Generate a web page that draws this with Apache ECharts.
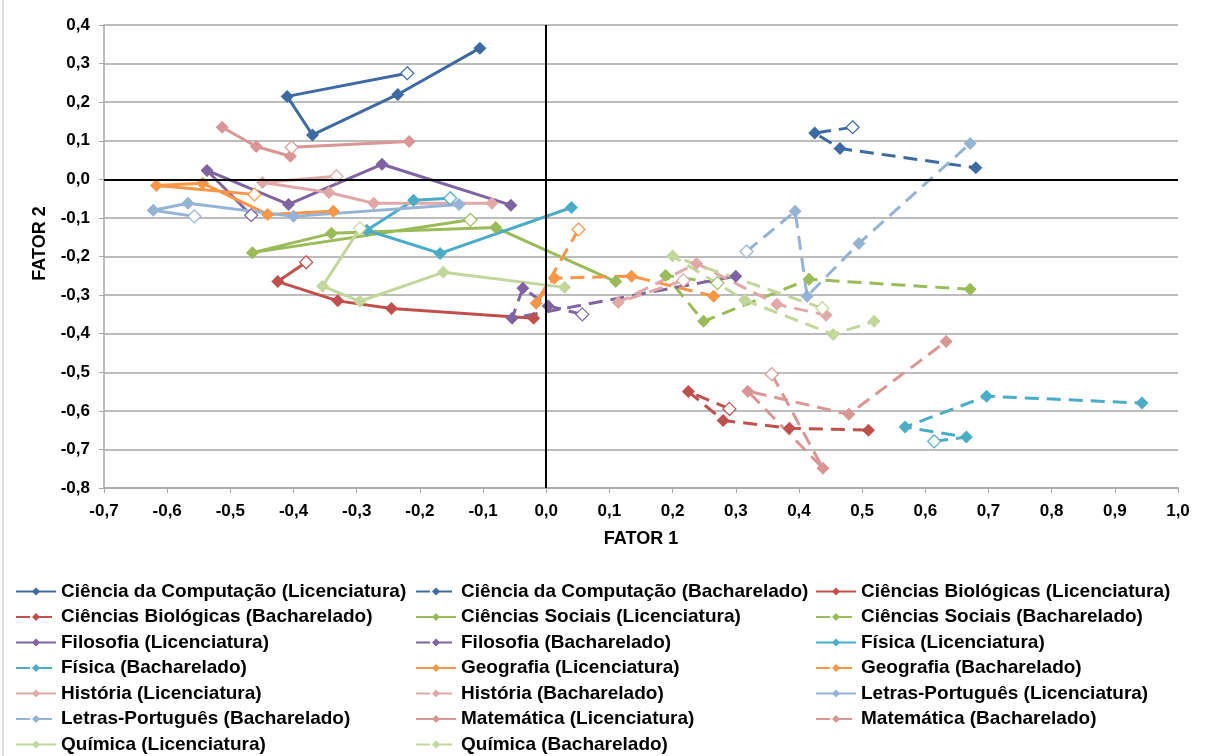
<!DOCTYPE html>
<html lang="pt">
<head>
<meta charset="UTF-8">
<title>FATOR 1 x FATOR 2</title>
<script src="https://cdn.jsdelivr.net/npm/echarts@6/dist/echarts.min.js"></script>
<style>
    html, body { margin: 0; background: #fff; }
    #main { width: 1208px; height: 756px; }
</style>
</head>
<body>
<div id="main"></div>
<script>
// nomes na ordem da legenda (Licenciatura / Bacharelado alternados)
var courseNames = [
    'Ciência da Computação (Licenciatura)', 'Ciência da Computação (Bacharelado)',
    'Ciências Biológicas (Licenciatura)', 'Ciências Biológicas (Bacharelado)',
    'Ciências Sociais (Licenciatura)', 'Ciências Sociais (Bacharelado)',
    'Filosofia (Licenciatura)', 'Filosofia (Bacharelado)',
    'Física (Licenciatura)', 'Física (Bacharelado)',
    'Geografia (Licenciatura)', 'Geografia (Bacharelado)',
    'História (Licenciatura)', 'História (Bacharelado)',
    'Letras-Português (Licenciatura)', 'Letras-Português (Bacharelado)',
    'Matemática (Licenciatura)', 'Matemática (Bacharelado)',
    'Química (Licenciatura)', 'Química (Bacharelado)'
];

// pontos [fator 1, fator 2], na ordem em que as linhas os ligam
var compLic   = [[-0.22, 0.275], [-0.41, 0.215], [-0.37, 0.115], [-0.235, 0.22], [-0.105, 0.34]];
var compBach  = [[0.485, 0.135], [0.425, 0.12], [0.465, 0.08], [0.68, 0.03]];
var bioLic    = [[-0.38, -0.215], [-0.425, -0.265], [-0.33, -0.315], [-0.245, -0.335], [-0.02, -0.36]];
var bioBach   = [[0.29, -0.595], [0.225, -0.55], [0.28, -0.625], [0.385, -0.645], [0.51, -0.65]];
var socLic    = [[-0.12, -0.105], [-0.465, -0.19], [-0.34, -0.14], [-0.08, -0.125], [0.11, -0.265]];
var socBach   = [[0.271, -0.269], [0.189, -0.249], [0.249, -0.368], [0.416, -0.259], [0.671, -0.285]];
var filLic    = [[-0.467, -0.093], [-0.537, 0.023], [-0.408, -0.065], [-0.26, 0.039], [-0.056, -0.067]];
var filBach   = [[0.057, -0.35], [0.003, -0.328], [-0.037, -0.282], [-0.054, -0.36], [0.3, -0.251]];
var fisLic    = [[-0.152, -0.049], [-0.21, -0.054], [-0.284, -0.132], [-0.168, -0.192], [0.04, -0.073]];
var fisBach   = [[0.614, -0.679], [0.665, -0.668], [0.568, -0.642], [0.697, -0.562], [0.943, -0.58]];
var geoLic    = [[-0.462, -0.039], [-0.617, -0.016], [-0.544, -0.01], [-0.441, -0.091], [-0.337, -0.083]];
var geoBach   = [[0.051, -0.13], [-0.016, -0.321], [0.013, -0.256], [0.135, -0.251], [0.265, -0.303]];
var hisLic    = [[-0.332, 0.008], [-0.449, -0.008], [-0.344, -0.034], [-0.273, -0.062], [-0.086, -0.062]];
var hisBach   = [[0.217, -0.262], [0.114, -0.319], [0.238, -0.218], [0.365, -0.324], [0.443, -0.352]];
var letLic    = [[-0.557, -0.096], [-0.622, -0.08], [-0.567, -0.062], [-0.4, -0.096], [-0.138, -0.065]];
var letBach   = [[0.317, -0.187], [0.394, -0.083], [0.413, -0.303], [0.495, -0.166], [0.671, 0.093]];
var matLic    = [[-0.513, 0.135], [-0.459, 0.085], [-0.405, 0.06], [-0.403, 0.083], [-0.217, 0.098]];
var matBach   = [[0.357, -0.505], [0.438, -0.749], [0.319, -0.549], [0.479, -0.609], [0.633, -0.42]];
var quiLic    = [[-0.295, -0.127], [-0.354, -0.277], [-0.295, -0.316], [-0.163, -0.241], [0.029, -0.28]];
var quiBach   = [[0.437, -0.334], [0.2, -0.199], [0.314, -0.313], [0.454, -0.402], [0.519, -0.368]];

var allPoints = [compLic, compBach, bioLic, bioBach, socLic, socBach, filLic, filBach,
    fisLic, fisBach, geoLic, geoBach, hisLic, hisBach, letLic, letBach,
    matLic, matBach, quiLic, quiBach];

// posição do marcador vazado em cada série
var hollowIndex = [0, 0, 0, 0, 0, 0, 0, 0, 0, 0, 0, 0, 0, 0, 0, 0, 3, 0, 0, 0];

// uma cor por curso
var courseColors = ['#3E6AA2', '#C0504D', '#9BBB59', '#8064A2', '#4BACC6',
    '#F79646', '#E0A9A8', '#95B3D7', '#D99694', '#C3D69B'];

var fontFamily = '"Liberation Sans", Arial, sans-serif';

function fmt(v) {
    if (Math.abs(v) < 1e-9) return '0,0';
    return v.toFixed(1).replace('.', ',');
}

var chart = echarts.init(document.getElementById('main'));

var series = [{
    // só as linhas dos eixos em zero
    type: 'line',
    data: [],
    z: 1,
    silent: true,
    markLine: {
        silent: true,
        symbol: 'none',
        label: { show: false },
        lineStyle: { color: '#000', width: 2, type: 'solid' },
        data: [{ xAxis: 0 }, { yAxis: 0 }],
        animation: false
    }
}];

courseNames.forEach(function (name, i) {
    var c = courseColors[Math.floor(i / 2)];
    var dashed = name.indexOf('Bacharelado') >= 0;
    series.push({
        name: name,
        type: 'line',
        z: 3,
        symbol: 'diamond',
        symbolSize: 13,
        showSymbol: true,
        itemStyle: { color: c },
        lineStyle: { color: c, width: 3, type: dashed ? [14, 8] : 'solid' },
        data: allPoints[i].map(function (p, j) {
            if (j === hollowIndex[i]) {
                return { value: p, itemStyle: { color: '#fff', borderColor: c, borderWidth: 1.2 } };
            }
            return p;
        })
    });
});

var legendLefts = [15, 415, 815];
var legends = legendLefts.map(function (left, col) {
    return {
        orient: 'vertical',
        left: left,
        top: 582,
        height: 200,
        padding: 0,
        itemWidth: 40,
        itemHeight: 10,
        itemGap: 6.5,
        selectedMode: false,
        data: courseNames.filter(function (n, i) { return i % 3 === col; }),
        textStyle: { fontSize: 19, fontWeight: 'bold', color: '#000', fontFamily: fontFamily, lineHeight: 19 }
    };
});

var option = {
    animation: false,
    backgroundColor: '#fff',
    grid: { left: 104, right: 30, top: 25, bottom: 268 },
    xAxis: {
        type: 'value',
        min: -0.7,
        max: 1.0,
        interval: 0.1,
        name: 'FATOR 1',
        nameLocation: 'middle',
        nameGap: 42,
        nameTextStyle: { fontSize: 18, fontWeight: 'bold', color: '#000', fontFamily: fontFamily },
        axisLine: { onZero: false, lineStyle: { color: '#A6A6A6', width: 1.5 } },
        axisTick: { show: true, length: 5, lineStyle: { color: '#A6A6A6' } },
        axisLabel: { formatter: fmt, color: '#000', fontSize: 17, fontWeight: 'bold', margin: 15, fontFamily: fontFamily },
        splitLine: { show: false }
    },
    yAxis: {
        type: 'value',
        min: -0.8,
        max: 0.4,
        interval: 0.1,
        name: 'FATOR 2',
        nameLocation: 'middle',
        nameGap: 55,
        nameRotate: 90,
        nameTextStyle: { fontSize: 18, fontWeight: 'bold', color: '#000', fontFamily: fontFamily, padding: [0, 0, 0, 26] },
        axisLine: { show: true, onZero: false, lineStyle: { color: '#A6A6A6', width: 1.5 } },
        axisTick: { show: true, length: 5, lineStyle: { color: '#A6A6A6' } },
        axisLabel: { formatter: fmt, color: '#000', fontSize: 17, fontWeight: 'bold', margin: 14, fontFamily: fontFamily },
        splitLine: { show: true, lineStyle: { color: '#A6A6A6', width: 1.5 } }
    },
    legend: legends,
    graphic: [{
        type: 'line',
        shape: { x1: 3, y1: 0, x2: 3, y2: 756 },
        style: { stroke: '#BFBFBF', lineWidth: 1 }
    }],
    series: series
};

chart.setOption(option);
</script>
</body>
</html>
